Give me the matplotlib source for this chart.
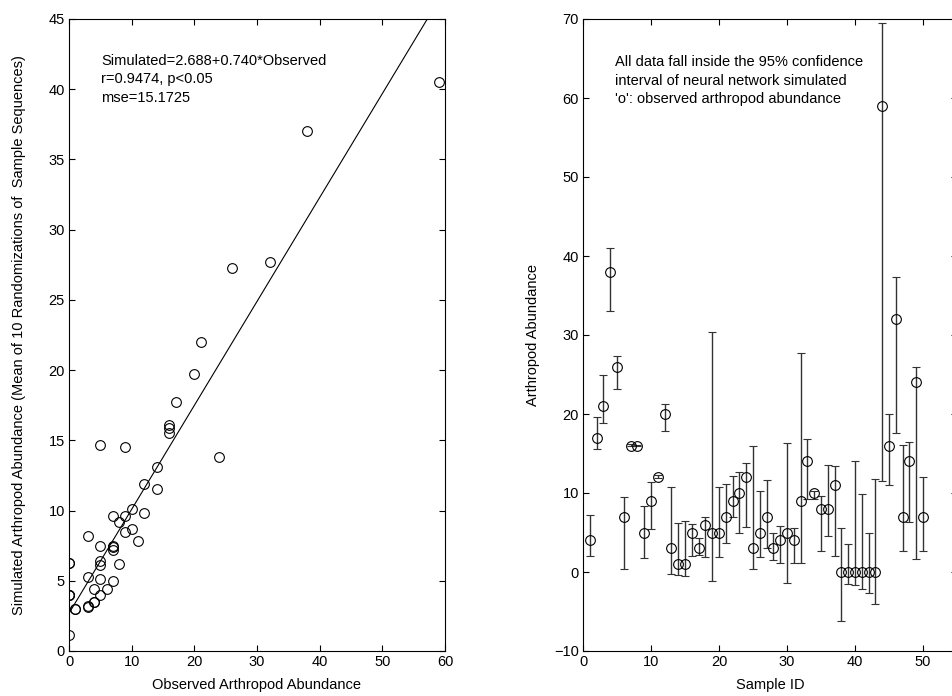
import matplotlib
matplotlib.use('Agg')
import matplotlib.pyplot as plt
import numpy as np

plt.rcParams['font.family'] = ['Liberation Sans', 'DejaVu Sans']
plt.rcParams['font.size'] = 10.5

# Left panel: observed vs simulated (mean of 10 randomizations)
observed = [0, 0, 0, 0, 0, 0, 1, 1, 3, 3, 3, 3, 4, 4, 4, 5, 5, 5, 5, 5, 5, 6,
            7, 7, 7, 7, 7, 8, 8, 9, 9, 9, 10, 10, 11, 12, 12, 14, 14,
            16, 16, 16, 17, 20, 21, 24, 26, 32, 38, 59]
simulated = [6.3, 4.0, 4.0, 4.0, 6.3, 1.15, 3.0, 3.0, 3.2, 3.1, 5.3, 8.2,
             3.5, 3.5, 4.4, 4.0, 5.1, 6.1, 6.4, 7.5, 14.7, 4.4,
             5.0, 7.2, 7.4, 7.5, 9.6, 6.2, 9.2, 8.5, 9.6, 14.5, 8.7, 10.1,
             7.8, 9.8, 11.9, 11.5, 13.1, 15.5, 15.9, 16.1, 17.7, 19.7, 22.0,
             13.8, 27.3, 27.7, 37.0, 40.5]
intercept = 2.688
slope = 0.740

# Right panel: observed abundance per sample with 95% CI of simulation
sample_id = list(range(1, 51))
abundance = [4, 17, 21, 38, 26, 7, 16, 16, 5, 9, 12, 20, 3, 1, 1, 5, 3, 6, 5, 5,
             7, 9, 10, 12, 3, 5, 7, 3, 4, 5, 4, 9, 14, 10, 8, 8, 11, 0, 0, 0,
             0, 0, 0, 59, 16, 32, 7, 14, 24, 7]
ci_low = [2.0, 15.6, 18.8, 33.0, 23.2, 0.4, 15.9, 15.9, 1.8, 5.5, 11.9, 17.8,
          -0.2, -0.4, -0.5, 2.0, 2.2, 1.9, -1.1, 1.9, 3.7, 7.0, 4.9, 5.7, 0.4,
          1.9, 3.0, 1.5, 1.2, -1.4, 1.2, 1.2, 9.2, 9.2, 2.7, 4.5, 2.0, -6.2,
          -1.5, -1.7, -2.1, -2.7, -4.0, 11.5, 11.0, 17.6, 2.7, 6.3, 1.6, 2.7]
ci_high = [7.2, 19.6, 25.0, 41.0, 27.4, 9.5, 16.2, 16.1, 8.4, 11.4, 12.3, 21.3,
           10.8, 6.2, 6.5, 6.1, 4.3, 7.0, 30.4, 10.8, 11.2, 12.2, 12.6, 13.8,
           16.0, 10.3, 11.6, 4.9, 5.8, 16.3, 5.6, 27.7, 16.8, 10.3, 9.6, 13.5,
           13.4, 5.6, 3.6, 14.0, 9.9, 4.9, 11.8, 69.5, 20.0, 37.4, 16.1, 16.5,
           25.9, 12.0]

fig = plt.figure(figsize=(9.52, 6.96), dpi=100)
W, H = 952, 696

def px_axes(x0, x1, y0, y1):
    return fig.add_axes([x0 / W, 1 - y1 / H, (x1 - x0) / W, (y1 - y0) / H])

def matlab_style(ax):
    ax.tick_params(direction='in', top=True, right=True, length=4, width=0.8,
                   labelsize=10.5, pad=3)
    for s in ax.spines.values():
        s.set_linewidth(0.8)

# ---- left panel
ax1 = px_axes(69, 445, 19, 651)
ax1.plot(observed, simulated, 'o', mfc='none', mec='black', ms=7, mew=0.8)
xs = np.array([0, 60])
ax1.plot(xs, intercept + slope * xs, color='black', lw=0.8)
ax1.set_xlim(0, 60)
ax1.set_ylim(0, 45)
ax1.set_xticks(range(0, 61, 10))
ax1.set_yticks(range(0, 46, 5))
ax1.set_xlabel('Observed Arthropod Abundance', labelpad=6)
ax1.set_ylabel('Simulated Arthropod Abundance (Mean of 10 Randomizations of  Sample Sequences)',
               labelpad=16)
ax1.text(5.1, 42.0, 'Simulated=2.688+0.740*Observed', va='center')
ax1.text(5.1, 40.7, 'r=0.9474, p<0.05', va='center')
ax1.text(5.1, 39.4, 'mse=15.1725', va='center')
matlab_style(ax1)

# ---- right panel
ax2 = px_axes(583, 957, 19, 651)
abund = np.array(abundance)
yerr = [abund - np.array(ci_low), np.array(ci_high) - abund]
ax2.errorbar(sample_id, abund, yerr=yerr, fmt='o', mfc='none', mec='black',
             ms=7, mew=0.8, ecolor='#333333', elinewidth=1.0, capsize=3,
             capthick=1.0)
ax2.set_xlim(0, 55)
ax2.set_ylim(-10, 70)
ax2.set_xticks(range(0, 51, 10))
ax2.set_yticks(range(-10, 71, 10))
ax2.set_xlabel('Sample ID', labelpad=6)
ax2.set_ylabel('Arthropod Abundance', labelpad=10)
ax2.text(4.7, 64.5, 'All data fall inside the 95% confidence', va='center')
ax2.text(4.7, 62.2, 'interval of neural network simulated', va='center')
ax2.text(4.7, 59.9, "'o': observed arthropod abundance", va='center')
matlab_style(ax2)

fig.savefig('out.png', dpi=100)
